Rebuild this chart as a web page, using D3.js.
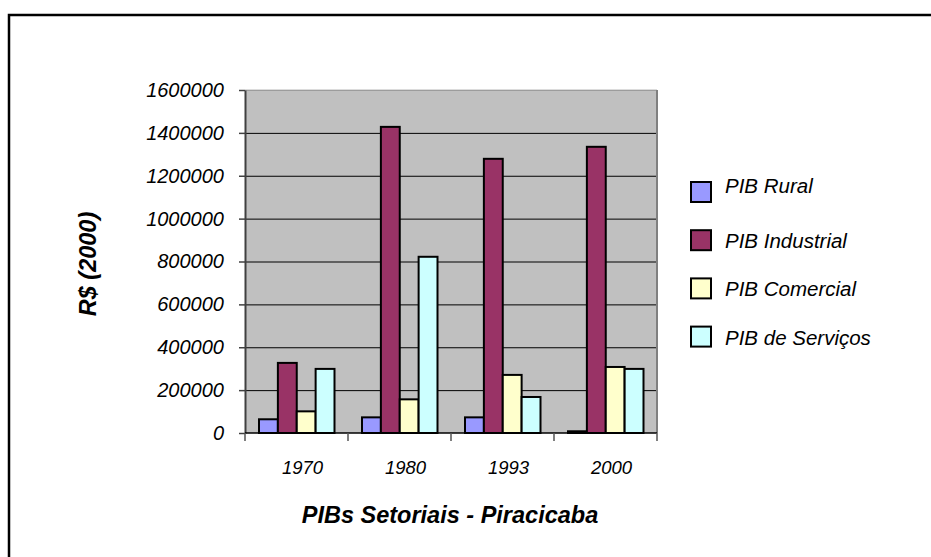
<!DOCTYPE html>
<html>
<head>
<meta charset="utf-8">
<script src="https://cdn.jsdelivr.net/npm/d3@7"></script>
<style>
  body { margin: 0; background: #fff; }
  text { font-family: "Liberation Sans", Arial, sans-serif; font-style: italic; }
</style>
</head>
<body>
<div id="container"></div>
<script>
var w = 931,
    h = 557;

var years = ['1970', '1980', '1993', '2000'];
var series = ['PIB Rural', 'PIB Industrial', 'PIB Comercial', 'PIB de Serviços'];
var colors = ['#9999ff', '#993366', '#ffffcc', '#ccffff'];

// values per series, one per year
var rural = [64000, 73000, 73000, 8000];
var industrial = [327000, 1428000, 1279000, 1335000];
var comercial = [101000, 157000, 271000, 308000];
var servicos = [299000, 822000, 168000, 299000];
var allValues = [rural, industrial, comercial, servicos];

var yTicks = [0, 200000, 400000, 600000, 800000, 1000000, 1200000, 1400000, 1600000];

var plot = { left: 245, right: 657, top: 90, bottom: 433 };

var svg = d3.select('#container')
    .append('svg')
    .attr('width', w)
    .attr('height', h);

// outer frame (only top and left visible)
svg.append('rect')
    .attr('x', 9)
    .attr('y', 15)
    .attr('width', w + 20)
    .attr('height', h + 20)
    .attr('fill', 'none')
    .attr('stroke', '#000')
    .attr('stroke-width', 2.5);

var x = d3.scaleBand()
    .domain(years)
    .range([plot.left, plot.right]);

var xInner = d3.scaleBand()
    .domain(series)
    .range([14, x.bandwidth() - 13.5]);

var y = d3.scaleLinear()
    .domain([0, 1600000])
    .range([plot.bottom, plot.top]);

// plot background
svg.append('rect')
    .attr('x', plot.left)
    .attr('y', plot.top)
    .attr('width', plot.right - plot.left)
    .attr('height', plot.bottom - plot.top)
    .attr('fill', '#c0c0c0');

// grid
svg.append('g')
    .selectAll('line')
    .data(yTicks.slice(1))
    .enter()
    .append('line')
    .attr('x1', plot.left)
    .attr('x2', plot.right)
    .attr('y1', function(d) { return y(d) + 0.5; })
    .attr('y2', function(d) { return y(d) + 0.5; })
    .attr('stroke', '#000')
    .attr('stroke-width', 1);

// plot border top / right
svg.append('line')
    .attr('x1', plot.left).attr('x2', plot.right)
    .attr('y1', plot.top).attr('y2', plot.top)
    .attr('stroke', '#d0d0d0').attr('stroke-width', 1.5);
svg.append('line')
    .attr('x1', plot.right).attr('x2', plot.right)
    .attr('y1', plot.top).attr('y2', plot.bottom)
    .attr('stroke', '#808080').attr('stroke-width', 2);

// bars
var groups = svg.selectAll('.year')
    .data(years)
    .enter()
    .append('g')
    .attr('class', 'year')
    .attr('transform', function(d) { return 'translate(' + x(d) + ',0)'; });

groups.selectAll('rect')
    .data(function(d, i) {
        return series.map(function(s, j) {
            return { name: s, value: allValues[j][i], color: colors[j] };
        });
    })
    .enter()
    .append('rect')
    .attr('x', function(d) { return xInner(d.name); })
    .attr('y', function(d) { return y(d.value); })
    .attr('width', xInner.bandwidth())
    .attr('height', function(d) { return y(0) - y(d.value); })
    .attr('fill', function(d) { return d.color; })
    .attr('stroke', '#000')
    .attr('stroke-width', 2);

// y axis
var yAxis = svg.append('g')
    .attr('transform', 'translate(' + plot.left + ',0)')
    .call(d3.axisLeft(y).tickValues(yTicks).tickFormat(d3.format('d')).tickSize(6).tickPadding(15).tickSizeOuter(0));
yAxis.select('.domain').attr('stroke', '#404040').attr('stroke-width', 2);
yAxis.selectAll('.tick line').attr('stroke', '#404040').attr('stroke-width', 1.5);
yAxis.selectAll('text')
    .attr('font-size', 20)
    .attr('font-family', '"Liberation Sans", Arial, sans-serif')
    .attr('fill', '#000');

// x axis (ticks between categories)
var xAxis = svg.append('g')
    .attr('transform', 'translate(0,' + plot.bottom + ')');
xAxis.append('line')
    .attr('x1', plot.left).attr('x2', plot.right)
    .attr('y1', 0).attr('y2', 0)
    .attr('stroke', '#000').attr('stroke-width', 1.5);
xAxis.selectAll('.xt')
    .data(years.concat(['end']))
    .enter()
    .append('line')
    .attr('class', 'xt')
    .attr('x1', function(d, i) { return plot.left + i * x.step(); })
    .attr('x2', function(d, i) { return plot.left + i * x.step(); })
    .attr('y1', 0).attr('y2', 8)
    .attr('stroke', '#555').attr('stroke-width', 1.5);
xAxis.selectAll('.xl')
    .data(years)
    .enter()
    .append('text')
    .attr('class', 'xl')
    .attr('x', function(d) { return x(d) + x.bandwidth() / 2 + 6; })
    .attr('y', 41)
    .attr('text-anchor', 'middle')
    .attr('font-size', 18.5)
    .text(function(d) { return d; });

// titles
svg.append('text')
    .attr('x', 450)
    .attr('y', 523)
    .attr('text-anchor', 'middle')
    .attr('font-size', 23.5)
    .attr('font-weight', 'bold')
    .text('PIBs Setoriais - Piracicaba');

svg.append('text')
    .attr('transform', 'translate(96,264) rotate(-90)')
    .attr('text-anchor', 'middle')
    .attr('font-size', 23.5)
    .attr('font-weight', 'bold')
    .text('R$ (2000)');

// legend
var legend = svg.selectAll('.legend')
    .data(series)
    .enter()
    .append('g')
    .attr('class', 'legend')
    .attr('transform', function(d, i) { return 'translate(691,' + (182 + i * 48.2) + ')'; });

legend.append('rect')
    .attr('width', 20)
    .attr('height', 20)
    .attr('fill', function(d, i) { return colors[i]; })
    .attr('stroke', '#000')
    .attr('stroke-width', 2);

legend.append('text')
    .attr('x', 34)
    .attr('y', function(d, i) { return i === 0 ? 11 : 18; })
    .attr('font-size', 20.5)
    .text(function(d) { return d; });
</script>
</body>
</html>
